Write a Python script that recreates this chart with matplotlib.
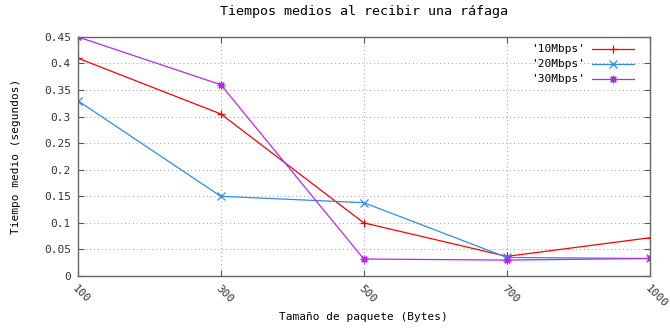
import numpy as np
import matplotlib.pyplot as plt

# ===============================
# Data
# ===============================
sizes = ["100", "300", "500", "700", "1000"]
t_10mbps = [0.41, 0.305, 0.10, 0.037, 0.072]
t_20mbps = [0.33, 0.15, 0.138, 0.035, 0.033]
t_30mbps = [0.45, 0.36, 0.032, 0.030, 0.033]

series = [
    ("'10Mbps'", t_10mbps, "#ff0000", "+"),
    ("'20Mbps'", t_20mbps, "#2d8cf0", "x"),
    ("'30Mbps'", t_30mbps, "#b628f0", (8, 2, 0)),
]

plt.rcParams["font.family"] = "DejaVu Sans Mono"
plt.rcParams["font.size"] = 8

fig = plt.figure(figsize=(6.7, 3.29), dpi=100)
ax = fig.add_axes([0.116, 0.161, 0.854, 0.727])

xpos = np.arange(len(sizes))
for label, vals, color, marker in series:
    ax.plot(xpos, vals, color=color, lw=0.9, marker=marker, ms=5.5,
            mew=0.9, label=label)

ax.set_xlim(0, len(sizes) - 1)
ax.set_ylim(0, 0.45)
ax.set_xticks(xpos)
ax.set_xticklabels(sizes, rotation=-45, ha="left", va="top",
                   rotation_mode="anchor", color="#333333")
ax.set_yticks(np.arange(0, 0.451, 0.05))
ax.set_yticklabels(["0", "0.05", "0.1", "0.15", "0.2", "0.25", "0.3",
                    "0.35", "0.4", "0.45"], color="#333333")

ax.grid(True, linestyle=(0, (1, 3)), color="#999999", lw=0.7)
ax.tick_params(direction="in", length=4, color="#555555",
               top=True, right=True, pad=5)
for sp in ax.spines.values():
    sp.set_color("#666666")
    sp.set_linewidth(1.0)

ax.set_xlabel("Tamaño de paquete (Bytes)")
ax.xaxis.set_label_coords(0.5, -0.172)
ax.xaxis.label.set_va("center")
ax.set_ylabel("Tiempo medio (segundos)")
ax.yaxis.set_label_coords(-0.107, 0.5)
ax.yaxis.label.set_va("center")
ax.set_title("Tiempos medios al recibir una ráfaga", pad=16)

leg = ax.legend(loc="upper right", frameon=False, markerfirst=False,
                handlelength=3.8, labelspacing=0.45, handletextpad=0.6,
                bbox_to_anchor=(0.99, 1.01))

fig.savefig("out.png", dpi=100)
